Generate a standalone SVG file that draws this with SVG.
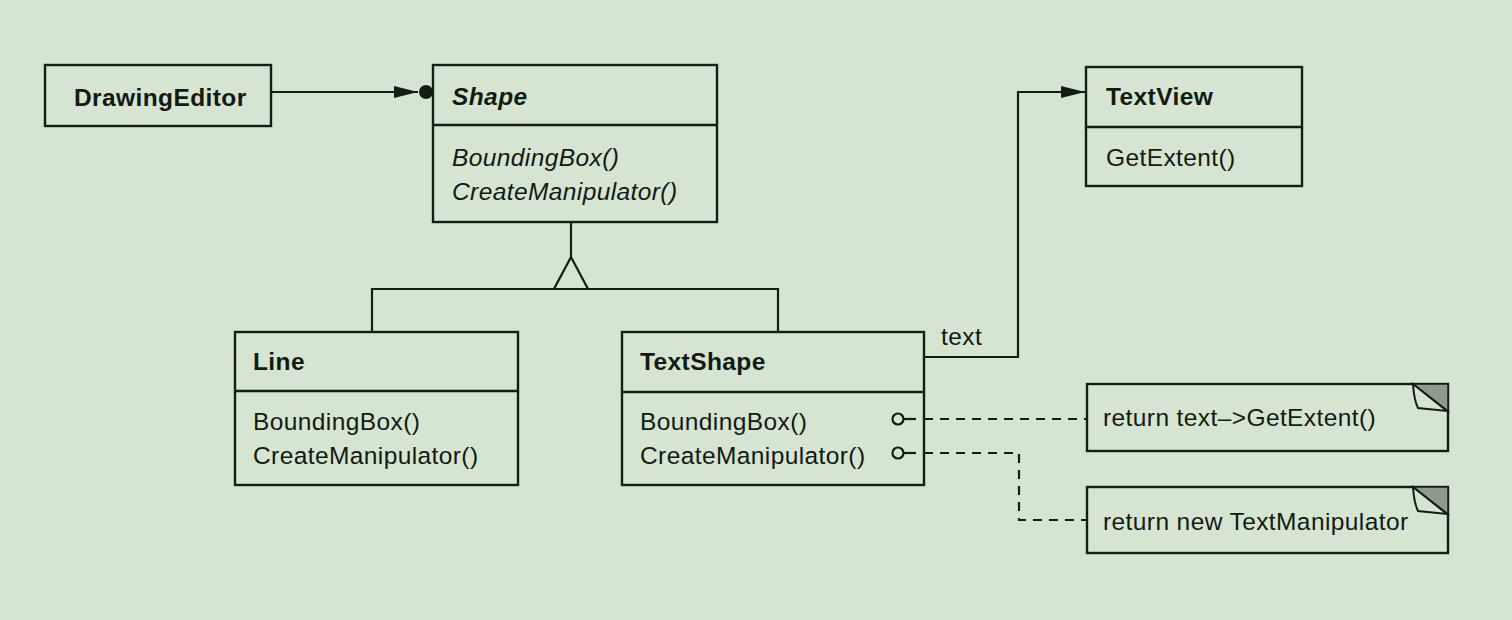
<svg xmlns="http://www.w3.org/2000/svg" width="1512" height="620" viewBox="0 0 1512 620">
<defs>
<style>
.box{fill:none;stroke:#141d13;stroke-width:2.4}
.ln{fill:none;stroke:#141d13;stroke-width:2.2}
.dash{fill:none;stroke:#141d13;stroke-width:2.2;stroke-dasharray:9 7}
text{font-family:"Liberation Sans",Arial,sans-serif;font-size:24.5px;fill:#121a11;letter-spacing:0.4px}
.b{font-weight:bold}
.i{font-style:italic}
.ear{fill:#8f9a8c;stroke:#141d13;stroke-width:1.5}
.flap{fill:#d6e5d2;stroke:#141d13;stroke-width:2}
</style>
<marker id="arr" markerWidth="26" markerHeight="14" refX="24" refY="7" orient="auto" markerUnits="userSpaceOnUse">
<path d="M0,1 L24,7 L0,13 Z" fill="#141d13"/>
</marker>
</defs>
<rect width="1512" height="620" fill="#d6e5d2"/>

<g id="connectors">
<line class="ln" x1="271" y1="92" x2="418" y2="92" marker-end="url(#arr)"/>
<circle cx="426" cy="92" r="7" fill="#141d13"/>
<line class="ln" x1="571" y1="222" x2="571" y2="257"/>
<path d="M571,257 L554,289 L588,289 Z" fill="none" stroke="#141d13" stroke-width="2.2"/>
<path class="ln" d="M372,332 V289 H778 V332"/>
<path class="ln" d="M924,357 H1018 V92 H1085" marker-end="url(#arr)"/>
<text x="941" y="345">text</text>
<circle cx="898" cy="419" r="5.5" fill="none" stroke="#141d13" stroke-width="2.2"/>
<line class="ln" x1="903" y1="419" x2="916" y2="419"/>
<circle cx="898" cy="453" r="5.5" fill="none" stroke="#141d13" stroke-width="2.2"/>
<line class="ln" x1="903" y1="453" x2="916" y2="453"/>
<path class="dash" d="M924,419 H1087"/>
<path class="dash" d="M924,453 H1019 V520 H1087"/>
</g>

<g id="DrawingEditor">
<rect class="box" x="45" y="65" width="226" height="61"/>
<text class="b" x="74" y="106">DrawingEditor</text>
</g>

<g id="Shape">
<rect class="box" x="433" y="65" width="284" height="157"/>
<line class="box" x1="433" y1="125" x2="717" y2="125"/>
<text class="b i" x="452" y="105">Shape</text>
<text class="i" x="452" y="166">BoundingBox()</text>
<text class="i" x="452" y="200">CreateManipulator()</text>
</g>

<g id="TextView">
<rect class="box" x="1086" y="67" width="216" height="119"/>
<line class="box" x1="1086" y1="127" x2="1302" y2="127"/>
<text class="b" x="1106" y="105">TextView</text>
<text x="1106" y="166">GetExtent()</text>
</g>

<g id="Line">
<rect class="box" x="235" y="332" width="283" height="153"/>
<line class="box" x1="235" y1="391" x2="518" y2="391"/>
<text class="b" x="253" y="370">Line</text>
<text x="253" y="430">BoundingBox()</text>
<text x="253" y="464">CreateManipulator()</text>
</g>

<g id="TextShape">
<rect class="box" x="622" y="332" width="302" height="153"/>
<line class="box" x1="622" y1="392" x2="924" y2="392"/>
<text class="b" x="640" y="370">TextShape</text>
<text x="640" y="430">BoundingBox()</text>
<text x="640" y="464">CreateManipulator()</text>
</g>

<g id="note1">
<rect class="box" x="1087" y="384" width="361" height="67"/>
<path class="ear" d="M1413,384 H1448 V411 Z"/>
<path class="flap" d="M1413,384 Q1414,400 1418,408 L1447,411 Z"/>
<text x="1103" y="426">return text–&gt;GetExtent()</text>
</g>

<g id="note2">
<rect class="box" x="1087" y="487" width="361" height="66"/>
<path class="ear" d="M1413,487 H1448 V514 Z"/>
<path class="flap" d="M1413,487 Q1414,503 1418,511 L1447,514 Z"/>
<text x="1103" y="530">return new TextManipulator</text>
</g>
</svg>
